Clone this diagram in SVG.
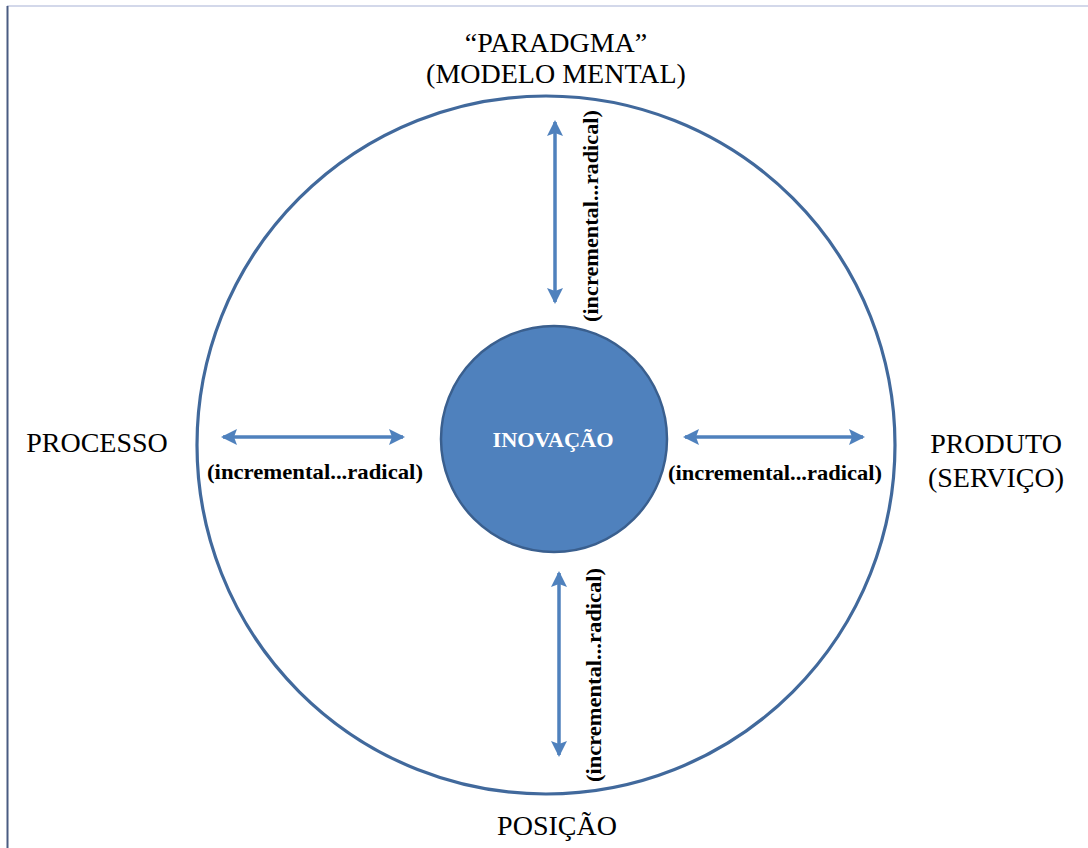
<svg xmlns="http://www.w3.org/2000/svg" width="1088" height="848" viewBox="0 0 1088 848">
  <style>
    .label { font-family: "Liberation Serif", "Times New Roman", serif; font-size: 28px; fill: #000; text-anchor: middle; }
    .range { font-family: "Liberation Serif", "Times New Roman", serif; font-size: 21px; font-weight: bold; fill: #000; text-anchor: middle; }
    .core { font-family: "Liberation Serif", "Times New Roman", serif; font-size: 22px; font-weight: bold; fill: #ffffff; text-anchor: middle; }
    .arrow { stroke: #4f81bd; stroke-width: 3.5; fill: none; marker-start: url(#head); marker-end: url(#head); }
  </style>
  <defs>
    <marker id="head" viewBox="0 0 16 16" refX="14" refY="8" markerWidth="16" markerHeight="16" markerUnits="userSpaceOnUse" orient="auto-start-reverse">
      <path d="M0,0 L16,8 L0,16 L3,8 Z" fill="#4f81bd"/>
    </marker>
  </defs>

  <rect width="1088" height="848" fill="#ffffff"/>
  <!-- page frame -->
  <line x1="7" y1="6" x2="1088" y2="6" stroke="#d3d8ea" stroke-width="2"/>
  <line x1="7.5" y1="6" x2="7.5" y2="848" stroke="#4a5c82" stroke-width="2"/>

  <!-- outer ring -->
  <g id="outer-ring">
    <circle cx="546" cy="445" r="349" fill="none" stroke="#41699c" stroke-width="3.2"/>
  </g>

  <!-- core node -->
  <g id="inovacao">
    <circle cx="554" cy="439" r="113" fill="#4f81bd" stroke="#3a5f8e" stroke-width="2.5"/>
    <text class="core" x="553" y="447" textLength="121" lengthAdjust="spacingAndGlyphs">INOVAÇÃO</text>
  </g>

  <!-- dimension labels -->
  <g id="paradigma">
    <text class="label" x="556" y="52">“PARADGMA”</text>
    <text class="label" x="556" y="83">(MODELO MENTAL)</text>
  </g>
  <g id="processo">
    <text class="label" x="97" y="452">PROCESSO</text>
  </g>
  <g id="produto">
    <text class="label" x="996" y="453">PRODUTO</text>
    <text class="label" x="996" y="487">(SERVIÇO)</text>
  </g>
  <g id="posicao">
    <text class="label" x="557" y="835">POSIÇÃO</text>
  </g>

  <!-- connectors with range labels -->
  <g id="connectors">
    <line class="arrow" x1="555" y1="122" x2="555" y2="302"/>
    <line class="arrow" x1="559" y1="573" x2="559" y2="755"/>
    <line class="arrow" x1="223" y1="437" x2="403" y2="437"/>
    <line class="arrow" x1="685" y1="437" x2="863" y2="437"/>
    <text class="range" x="315" y="479" textLength="216" lengthAdjust="spacingAndGlyphs">(incremental...radical)</text>
    <text class="range" x="775" y="480" textLength="214" lengthAdjust="spacingAndGlyphs">(incremental...radical)</text>
    <text class="range" transform="translate(598,216) rotate(-90)" x="0" y="0" textLength="212" lengthAdjust="spacingAndGlyphs">(incremental...radical)</text>
    <text class="range" transform="translate(601,675) rotate(-90)" x="0" y="0" textLength="214" lengthAdjust="spacingAndGlyphs">(incremental...radical)</text>
  </g>
</svg>
